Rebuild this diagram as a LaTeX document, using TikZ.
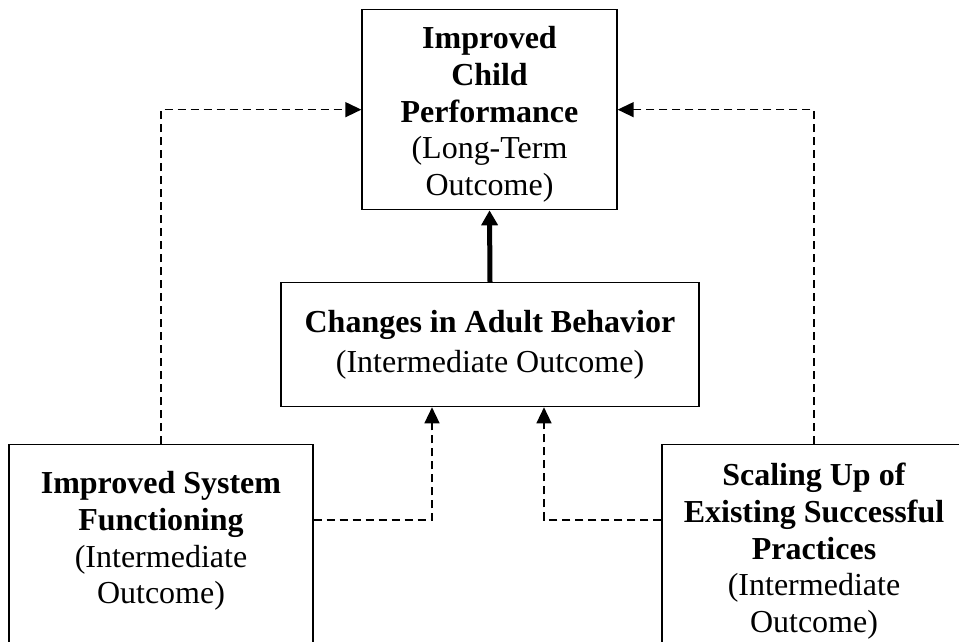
\documentclass[tikz,border=0pt]{standalone}
\usepackage{fontspec}
\setmainfont{Liberation Serif}
\usetikzlibrary{arrows.meta}

\begin{document}
\begin{tikzpicture}[x=1pt, y=1pt,
		outbox/.style={shape=rectangle, draw, line width=1.3pt, align=flush center, anchor=north, text height=22pt, inner xsep=8pt, font=\fontsize{32}{36.7}\selectfont},
		dasharrow/.style={line width=1.4pt, dash pattern=on 8pt off 5pt, -{Triangle[length=16pt,width=15pt]}},
		boldarrow/.style={line width=5pt, -{Triangle[length=15pt,width=16pt]}}]
			\useasboundingbox (0,0) rectangle (959,-641);
			\clip (0,0) rectangle (959,-641);
			
			\node (o1)[outbox, text width=239pt, inner ysep=17pt, text depth=144pt] 
			at (489.5,-9){
				\textbf{Improved} \\ \textbf{Child} \\ \textbf{Performance} \\ (Long-Term \\ Outcome)
			}; 
			
			\node (o2)[outbox, text width=402pt, inner ysep=28pt, text depth=46pt] 
			at (490,-282){
				\textbf{Changes in Adult Behavior} \\[3pt] (Intermediate Outcome)
			}; 
			
			\node (o3)[outbox, text width=288pt, inner ysep=27pt, text depth=250pt] 
			at (161,-444){
				\textbf{Improved System} \\ \textbf{Functioning} \\ (Intermediate \\ Outcome)
			}; 
			
			\node (o4)[outbox, text width=288pt, inner ysep=19pt, text depth=250pt] 
			at (814,-444){
				\textbf{Scaling Up of} \\ \textbf{Existing Successful} \\ \textbf{Practices} \\ (Intermediate \\ Outcome)
			}; 
			
			\draw[boldarrow] (o2.north) -- (o1.south);
			\draw[dasharrow] (o3.north) |- (o1.west);
			\draw[dasharrow] (o4.north) |- (o1.east);
			\draw[dasharrow] ([yshift=-76pt]o3.north east) -| ([xshift=-58pt]o2.south);
			\draw[dasharrow] ([yshift=-76pt]o4.north west) -| ([xshift=54pt]o2.south);
		\end{tikzpicture}
\end{document}
